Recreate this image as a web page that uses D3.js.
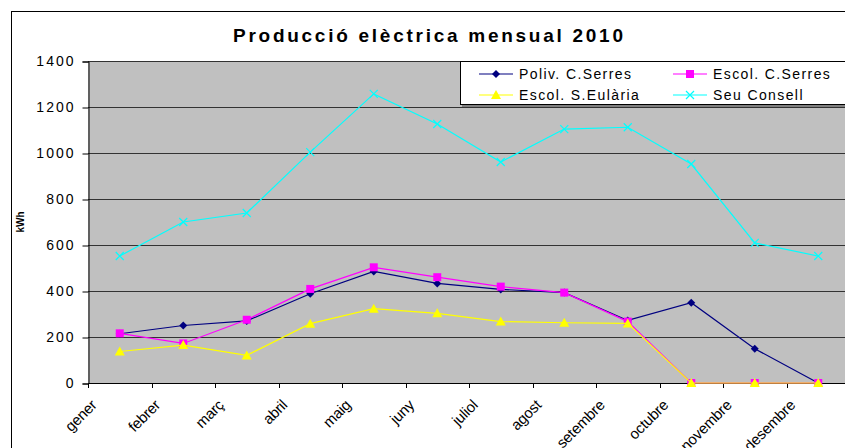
<!DOCTYPE html>
<head>
  <meta charset="utf-8">
  <script src="https://d3js.org/d3.v7.min.js"></script>
  <style>
    body { margin: 0; background: #fff; font-family: "Liberation Sans", Arial, sans-serif; }
    svg { display: block; }
    .grid line { stroke: #333; stroke-width: 1; shape-rendering: crispEdges; }
    .axis text { font-size: 14px; fill: #000; letter-spacing: 2px; }
    .xaxis text { font-size: 15px; fill: #000; letter-spacing: -0.2px; }
    .legend text { font-size: 14px; fill: #000; letter-spacing: 1.4px; }
  </style>
</head>
<body>
  <div id="chart"></div>
  <script>
    var months = ["gener", "febrer", "març", "abril", "maig", "juny", "juliol", "agost", "setembre", "octubre", "novembre", "desembre"];
    var polivSerres = [214, 250, 270, 388, 485, 433, 407, 393, 272, 349, 149, 0];
    var escolSerres = [216, 172, 275, 409, 503, 460, 419, 393, 267, 0, 0, 0];
    var escolEularia = [137, 165, 120, 258, 323, 303, 267, 262, 259, 0, 0, 0];
    var seuConsell = [552, 700, 739, 1004, 1257, 1126, 961, 1104, 1112, 952, 609, 552];
    var yTicks = [0, 200, 400, 600, 800, 1000, 1200, 1400];

    var series = [
      {name: "Poliv. C.Serres", values: polivSerres, color: "#000080", marker: "diamond"},
      {name: "Escol. C.Serres", values: escolSerres, color: "#ff00ff", marker: "square"},
      {name: "Escol. S.Eulària", values: escolEularia, color: "#ffff00", marker: "triangle"},
      {name: "Seu Consell", values: seuConsell, color: "#00ffff", marker: "cross"}
    ];

    var width = 845, height = 448,
        plot = {left: 88, top: 61, right: 850, bottom: 383};

    var svg = d3.select("#chart").append("svg")
      .attr("width", width)
      .attr("height", height);

    // chart frame
    svg.append("rect")
      .attr("x", 11.5).attr("y", 11.5)
      .attr("width", 900).attr("height", 500)
      .attr("fill", "#fff")
      .attr("stroke", "#000").attr("stroke-width", 1);

    svg.append("text")
      .attr("x", 233).attr("y", 42)
      .attr("textLength", 390).attr("lengthAdjust", "spacing")
      .style("font-size", "19px").style("font-weight", "bold")
      .text("Producció elèctrica mensual 2010");

    var x = d3.scaleBand()
      .domain(months)
      .range([plot.left, plot.right]);

    var y = d3.scaleLinear()
      .domain([0, 1400])
      .range([plot.bottom, plot.top]);

    svg.append("rect")
      .attr("x", plot.left).attr("y", plot.top)
      .attr("width", plot.right - plot.left).attr("height", plot.bottom - plot.top)
      .attr("fill", "#c0c0c0");

    svg.append("g")
      .attr("class", "grid")
      .selectAll("line")
      .data(yTicks.slice(1))
      .enter().append("line")
        .attr("x1", plot.left).attr("x2", plot.right)
        .attr("y1", function(d) { return Math.round(y(d)) + 0.5; })
        .attr("y2", function(d) { return Math.round(y(d)) + 0.5; });

    var yAxis = svg.append("g")
      .attr("class", "axis")
      .attr("transform", "translate(" + (plot.left + 0.5) + ",0.5)")
      .call(d3.axisLeft(y).tickValues(yTicks).tickSize(6).tickPadding(7).tickFormat(d3.format("d")));
    yAxis.select(".domain").attr("stroke", "#000");
    yAxis.selectAll("text").style("font-family", "Liberation Sans, Arial, sans-serif");

    // x axis: ticks at band edges
    var xg = svg.append("g").attr("class", "xaxis");
    xg.append("line")
      .attr("x1", plot.left).attr("x2", plot.right)
      .attr("y1", plot.bottom + 0.5).attr("y2", plot.bottom + 0.5)
      .attr("stroke", "#000");
    xg.selectAll("line.tick")
      .data(months)
      .enter().append("line")
        .attr("class", "tick")
        .attr("x1", function(d) { return Math.round(x(d)) + 0.5; })
        .attr("x2", function(d) { return Math.round(x(d)) + 0.5; })
        .attr("y1", plot.bottom).attr("y2", plot.bottom + 5)
        .attr("stroke", "#000");
    xg.selectAll("text")
      .data(months)
      .enter().append("text")
        .attr("text-anchor", "end")
        .attr("transform", function(d) {
          return "translate(" + (x(d) + x.bandwidth() / 2 - 22) + "," + (plot.bottom + 23) + ") rotate(-45)";
        })
        .text(function(d) { return d; });

    svg.append("text")
      .attr("transform", "translate(24,222) rotate(-90)")
      .attr("text-anchor", "middle")
      .style("font-size", "10px").style("font-weight", "bold")
      .text("kWh");

    var cx = function(i) { return x(months[i]) + x.bandwidth() / 2; };

    var line = d3.line()
      .x(function(d, i) { return cx(i); })
      .y(function(d) { return y(d); });

    function drawMarker(g, type, color) {
      if (type === "diamond") {
        g.append("path").attr("d", "M0,-4L4,0L0,4L-4,0Z").attr("fill", color);
      } else if (type === "square") {
        g.append("rect").attr("x", -4).attr("y", -4).attr("width", 8).attr("height", 8).attr("fill", color);
      } else if (type === "triangle") {
        g.append("path").attr("d", "M0,-5L5,4L-5,4Z").attr("fill", color);
      } else {
        g.append("path").attr("d", "M-4,-4L4,4M-4,4L4,-4").attr("stroke", color).attr("stroke-width", 1.2);
      }
    }

    series.forEach(function(s) {
      var g = svg.append("g");
      g.append("path")
        .datum(s.values)
        .attr("fill", "none")
        .attr("stroke", s.color)
        .attr("stroke-width", 1.2)
        .attr("d", line);
      s.values.forEach(function(v, i) {
        var m = g.append("g").attr("transform", "translate(" + cx(i) + "," + y(v) + ")");
        drawMarker(m, s.marker, s.color);
      });
    });

    // legend
    var legend = svg.append("g").attr("class", "legend");
    legend.append("rect")
      .attr("x", 462).attr("y", 62)
      .attr("width", 400).attr("height", 45)
      .attr("fill", "#808080");
    legend.append("rect")
      .attr("x", 460.5).attr("y", 61.5)
      .attr("width", 400).attr("height", 43)
      .attr("fill", "#fff").attr("stroke", "#000");

    var pos = [[479, 74], [673, 74], [479, 95], [673, 95]];
    series.forEach(function(s, i) {
      var p = pos[i];
      var g = legend.append("g").attr("transform", "translate(" + p[0] + "," + p[1] + ")");
      g.append("line").attr("x1", 0).attr("x2", 34).attr("stroke", s.color).attr("stroke-width", 1.2);
      var m = g.append("g").attr("transform", "translate(17,0)");
      drawMarker(m, s.marker, s.color);
      g.append("text").attr("x", 40).attr("dy", "0.36em").text(s.name);
    });
  </script>
</body>
